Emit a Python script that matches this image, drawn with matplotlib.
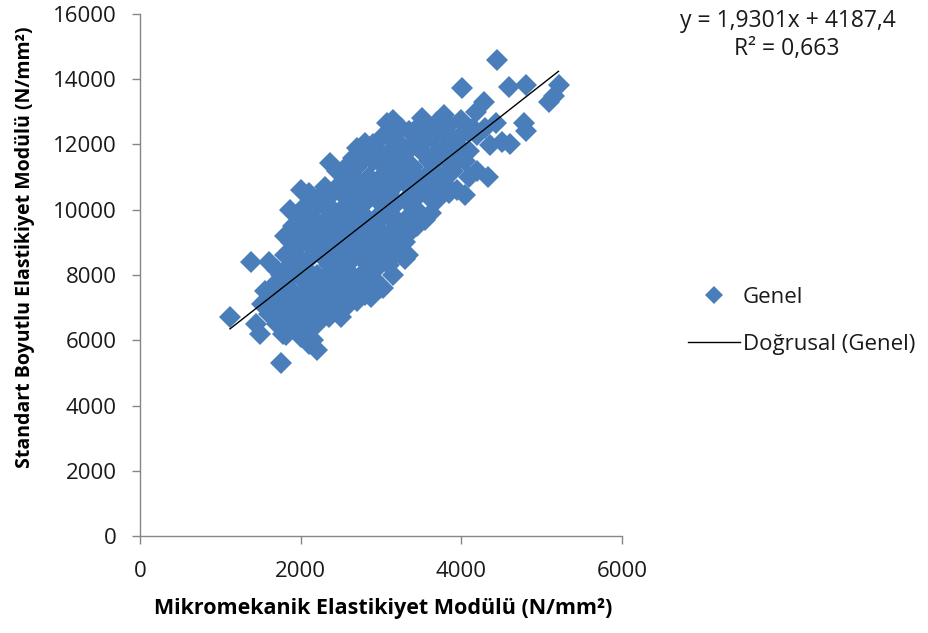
import numpy as np
import matplotlib
matplotlib.use("Agg")
from matplotlib import pyplot as plt

#---------------------- DATA
mikro_x = [
    1120, 1380, 1450, 1500, 1520, 1600, 1650, 1600, 1700, 1650, 1700, 1750, 1780, 1820, 1800, 1750,
    1850, 1870, 1880, 1900, 1870, 1950, 2000, 2000, 1950, 2050, 2000, 2050, 2100, 2050, 2100, 2150,
    2200, 2100, 2150, 2100, 2150, 2100, 2200, 2200, 2200, 2250, 2200, 2250, 2200, 2250, 2200,
    2300, 2370, 2450, 2300, 2350, 2400, 2350, 2300, 2400, 2350, 2400, 2300, 2450, 2500, 2500, 2450,
    2500, 2500, 2450, 2500, 2550, 2500, 2600, 2620, 2580, 2600, 2600, 2550,
    2700, 2800, 2700, 2750, 2700, 2700, 2650, 2750, 2700, 2650, 2750, 2700, 2800, 2870, 2850, 2800,
    2850, 2900, 2850, 2800, 2900, 2850, 2900, 2950, 3000, 3000, 2950, 3000, 2950, 3000, 2990, 2950,
    3080, 3150, 3100, 3200, 3100, 3200, 3100, 3200, 3100, 3200, 3100, 3150, 3100, 3200, 3100, 3030,
    3150, 3300, 3340, 3300, 3250, 3350, 3300, 3350, 3300, 3400, 3300, 3400, 3350, 3510, 3450, 3500,
    3450, 3500, 3450, 3450,
    3600, 3650, 3700, 3600, 3700, 3600, 3700, 3620, 3550, 3780, 3800, 3850, 3800, 3900, 3800, 3850,
    3990, 4010, 3950, 3950,
    4050, 4080, 4180, 4280, 4100, 4200, 4330, 4360, 4510, 4430, 4450, 4150, 4300,
    4590, 4800, 4780, 4800, 5090, 5210, 5150, 4600,
    # denser interior
    1550, 1700, 1750, 1800, 1900, 1950, 1900, 1850, 1950, 2000, 1700, 1600, 1800, 1950, 2050, 2050,
    2000, 2100, 2150, 2150, 2150, 2000,
    2300, 2250, 2350, 2400, 2450, 2400, 2350, 2450, 2300, 2400, 2350, 2550, 2550, 2600, 2650, 2600,
    2700, 2550, 2450, 2650, 2800, 2750, 2800, 2850, 2900, 2700, 2650, 2600, 2900, 2800, 2950, 2900,
    3000, 3050, 3050, 3000,
    3250, 3150, 3250, 3200, 3250, 3350, 3400, 3550, 3400, 3550, 3650, 3750, 3700, 3500, 3600, 3750,
    3800, 3900, 3850, 4000, 4050, 4100, 4200, 3950,
]
standart_y = [
    6700, 8400, 6500, 6200, 7100, 7300, 7000, 8400, 8150, 7600, 7800, 5300, 6200, 6150, 7200, 6800,
    7600, 8300, 9000, 9500, 10000, 9800, 10600, 9000, 8600, 8200, 7900, 7500, 7000, 6600, 6300, 6000,
    5700, 5900, 8800, 9400, 10000, 10500, 10300, 9600, 9100, 8600, 8000, 7600, 7200, 6800, 6500,
    10700, 11430, 10700, 10100, 9800, 9400, 9000, 8500, 8200, 7800, 7400, 7100, 6900, 6700, 7200, 7800,
    8400, 8800, 9200, 9700, 10100, 10500, 10900, 11430, 9400, 8100, 7500, 7000,
    11900, 12050, 11300, 10800, 10400, 9900, 9600, 9200, 8800, 8500, 8000, 7700, 7400, 7330, 7800, 8400,
    8900, 9300, 9700, 10200, 10600, 11000, 11500, 11800, 12200, 11000, 10300, 9900, 9000, 8600, 7600, 8200,
    12660, 12750, 12300, 12100, 11700, 11400, 11100, 10800, 10500, 10200, 9800, 9400, 9000, 8700, 8300, 7600,
    8000, 8500, 8610, 9000, 9400, 9800, 10300, 10700, 11000, 11300, 11700, 12000, 12400, 12810, 12500, 11800,
    11000, 10500, 10000, 9500,
    12500, 12200, 11800, 11500, 11100, 10700, 10300, 9900, 9700, 12900, 12400, 12000, 11600, 11200, 10800, 10500,
    12750, 13730, 12000, 11500,
    10450, 12380, 13000, 13300, 11800, 11200, 11000, 11990, 12080, 12660, 14590, 12500, 12500,
    13760, 13820, 12660, 12400, 13300, 13820, 13500, 12000,
    # denser interior
    7500, 7400, 8000, 8600, 8000, 7300, 6800, 6500, 6400, 7000, 6500, 6800, 9200, 9300, 9700, 10100,
    8400, 8500, 7700, 7300, 6700, 6100,
    9300, 10400, 10400, 10000, 9600, 8700, 8300, 8100, 7900, 7000, 6700, 7800, 8600, 9100, 9900, 10500,
    10700, 11000, 11200, 11600, 11600, 9500, 9000, 8200, 7900, 7200, 7900, 8700, 12000, 10400, 9600, 8600,
    9300, 10200, 10800, 11400,
    12500, 11900, 11100, 9700, 9100, 9300, 10300, 11000, 10800, 12100, 11400, 12400, 12700, 12200, 10400, 10700,
    11100, 11800, 12600, 12300, 11500, 11000, 12300, 10600,
]

# Excel linear trendline as printed on the chart
slope = 1.9301
intercept = 4187.4

x_ticks = [0, 2000, 4000, 6000]
y_ticks = [0, 2000, 4000, 6000, 8000, 10000, 12000, 14000, 16000]

#---------------------- STYLE
plt.rcParams['font.family'] = ['Open Sans', 'DejaVu Sans']
BLUE = '#4a7ebb'
GRAY = '#868686'
TXT = '#1a1a1a'

fig = plt.figure(figsize=(9.29, 6.33), dpi=100)
ax = fig.add_axes([0.1507, 0.1532, 0.5188, 0.8247])

ax.plot(mikro_x, standart_y, linestyle='none', marker='D', markersize=11,
        color=BLUE, markeredgewidth=0, label='Genel')

xs = np.array([min(mikro_x), max(mikro_x)])
ax.plot(xs, slope * xs + intercept, color='black', linewidth=1.0, label='Doğrusal (Genel)')

ax.set_xlim(0, 6000)
ax.set_ylim(0, 16000)
ax.set_xticks(x_ticks)
ax.set_yticks(y_ticks)

for side in ['top', 'right']:
    ax.spines[side].set_visible(False)
for side in ['left', 'bottom']:
    ax.spines[side].set_color(GRAY)
    ax.spines[side].set_linewidth(1.0)
ax.tick_params(axis='both', direction='out', length=6, width=1.0, color=GRAY,
               labelsize=16, labelcolor=TXT)
ax.tick_params(axis='y', pad=11)
ax.tick_params(axis='x', pad=12)

ax.set_xlabel('Mikromekanik Elastikiyet Modülü (N/mm²)', fontsize=15.5, fontweight='bold')
ax.xaxis.set_label_coords(0.505, -0.118)
ax.set_ylabel('Standart Boyutlu Elastikiyet Modülü (N/mm²)', fontsize=14, fontweight='bold')
ax.yaxis.set_label_coords(-0.218, 0.554)

fig.text(0.848, 0.967, 'y = 1,9301x + 4187,4', fontsize=16.5, ha='center', va='center', color=TXT)
fig.text(0.847, 0.922, 'R² = 0,663', fontsize=16.5, ha='center', va='center', color=TXT)

leg = fig.legend(loc='center left', bbox_to_anchor=(0.741, 0.493), frameon=False, fontsize=16,
                 handlelength=2.3, labelspacing=1.15, handletextpad=0.15,
                 borderpad=0, borderaxespad=0, markerscale=0.8)
for t in leg.get_texts():
    t.set_color(TXT)

plt.savefig('out.png', dpi=100)
